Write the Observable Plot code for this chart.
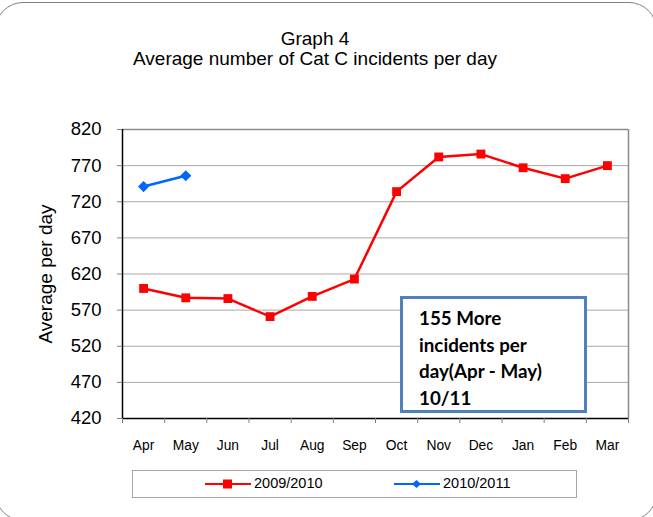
<!DOCTYPE html>
<html><head><meta charset="utf-8">
<script src="https://cdn.jsdelivr.net/npm/d3@7"></script>
<script src="https://cdn.jsdelivr.net/npm/@observablehq/plot@0.6"></script>
<style>
body{margin:0;background:#fff;}
#wrap{position:relative;width:653px;height:517px;overflow:hidden;background:#fff;font-family:"Liberation Sans",Arial,sans-serif;color:#000;}
#frame{position:absolute;left:-5px;top:2px;width:660px;height:517px;border:1px solid #808080;border-radius:28px;}
#title{position:absolute;left:65px;width:500px;top:29px;text-align:center;font-size:19px;line-height:20px;}
#chart{position:absolute;left:0;top:0;}
#note{position:absolute;left:400px;top:296px;width:165px;height:105px;border:3px solid #4f81bd;padding:6px 0 0 16px;box-sizing:content-box;font-family:Lato,"Open Sans",sans-serif;font-weight:bold;font-size:18.8px;line-height:26.7px;background:#fff;white-space:nowrap;}
#legend{position:absolute;left:132px;top:470px;width:443px;height:26px;border:1px solid #a6a6a6;background:#fff;}
.item{position:absolute;top:0;height:26px;}
.item svg{position:absolute;top:7px;left:0;}
.item span{position:absolute;top:4px;white-space:nowrap;font-size:14.5px;}
</style></head><body>
<div id="wrap">
  <div id="frame"></div>
  <div id="title">Graph 4<br>Average number of Cat C incidents per day</div>
  <div id="chart"></div>
  <div id="note">155 More<br>incidents per<br>day(Apr - May)<br>10/11</div>
  <div id="legend"></div>
</div>
<script>
const months = ["Apr","May","Jun","Jul","Aug","Sep","Oct","Nov","Dec","Jan","Feb","Mar"];
const values2009 = [600, 587, 586, 561, 589, 613, 734, 782, 786, 767, 752, 770];
const values2010 = [741, 756];
const yTicks = [420, 470, 520, 570, 620, 670, 720, 770, 820];
const seriesNames = ["2009/2010", "2010/2011"];
const seriesColors = ["#ff0000", "#0066ff"];
const yLabel = "Average per day";

const rows2009 = values2009.map((v, i) => ({i, v}));
const rows2010 = values2010.map((v, i) => ({i, v}));
const idx = months.map((m, i) => i);
const bounds = d3.range(months.length + 1).map(i => i - 0.5);

const chart = Plot.plot({
  width: 653, height: 517,
  marginTop: 129, marginBottom: 99, marginLeft: 122, marginRight: 25,
  style: {fontFamily: '"Liberation Sans", Arial, sans-serif', background: "transparent", color: "#000"},
  x: {type: "linear", domain: [-0.5, months.length - 0.5]},
  y: {domain: [yTicks[0], yTicks[yTicks.length - 1]]},
  marks: [
    Plot.gridY(yTicks.slice(1, -1), {stroke: "#a8a8a8", strokeOpacity: 1, strokeWidth: 1}),
    Plot.ruleY([yTicks[yTicks.length - 1]], {stroke: "#8c8c8c", strokeWidth: 1.5}),
    Plot.ruleX([months.length - 0.5], {stroke: "#8c8c8c", strokeWidth: 1.5}),
    Plot.ruleY([yTicks[0]], {stroke: "#000", strokeWidth: 1.5}),
    Plot.ruleX([-0.5], {stroke: "#000", strokeWidth: 1.5}),
    Plot.axisY({ticks: yTicks, tickSize: 5, tickPadding: 16, fontSize: 18.5, stroke: "#808080", label: null}),
    Plot.axisX({ticks: idx, tickFormat: i => months[i], tickSize: 0, tickPadding: 22, fontSize: 13.8, label: null}),
    Plot.axisX({ticks: bounds, tickFormat: () => "", tickSize: 5, stroke: "#808080", label: null}),
    Plot.text([yLabel], {frameAnchor: "left", textAnchor: "middle", lineAnchor: "middle", dx: -77, rotate: -90, fontSize: 19, text: d => d}),
    Plot.line(rows2009, {x: "i", y: "v", stroke: seriesColors[0], strokeWidth: 2.5}),
    Plot.dot(rows2009, {x: "i", y: "v", symbol: "square", r: 5, fill: seriesColors[0], stroke: "none"}),
    Plot.line(rows2010, {x: "i", y: "v", stroke: seriesColors[1], strokeWidth: 2.5}),
    Plot.dot(rows2010, {x: "i", y: "v", symbol: "diamond2", r: 5, fill: seriesColors[1], stroke: "none"})
  ]
});
document.getElementById("chart").appendChild(chart);

// legend
const legend = document.getElementById("legend");
const itemPos = [72, 261];
const textPos = [121, 310];
seriesNames.forEach((name, k) => {
  const item = document.createElement("div");
  item.className = "item";
  item.style.left = itemPos[k] + "px";
  const marker = k === 0
    ? `<rect x="18" y="1.5" width="9" height="9" fill="${seriesColors[k]}"/>`
    : `<path d="M22.5 2 L27 6 L22.5 10 L18 6 Z" fill="${seriesColors[k]}"/>`;
  item.innerHTML = `<svg width="46" height="12"><line x1="0" y1="6" x2="46" y2="6" stroke="${seriesColors[k]}" stroke-width="2.2"/>${marker}</svg><span style="left:${textPos[k] - itemPos[k]}px">${name}</span>`;
  legend.appendChild(item);
});
</script>
</body></html>
